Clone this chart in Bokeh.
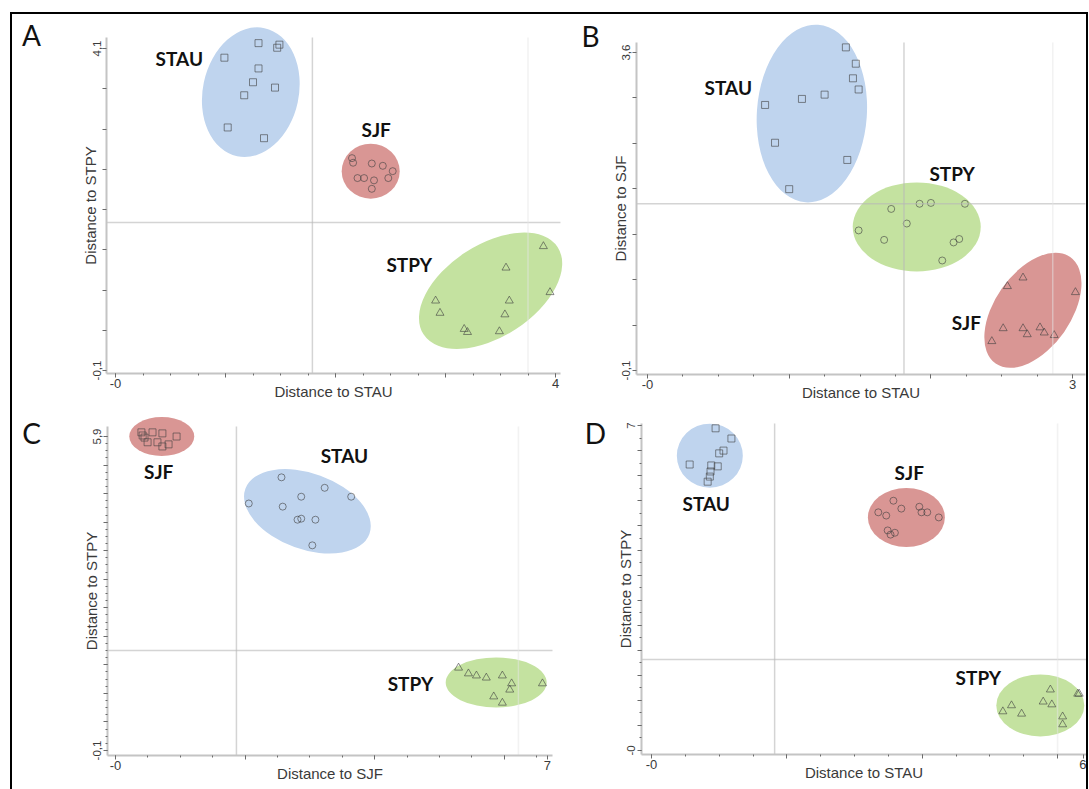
import numpy as np
from bokeh.plotting import figure
from bokeh.models import FixedTicker, Label
from bokeh.layouts import row, column
from bokeh.embed import file_html
from bokeh.resources import INLINE
from bokeh.core.properties import value

# ---------------- data ----------------
# Panel A: distance to STAU (x) vs distance to STPY (y)
a_stau_x = [1.30, 1.47, 1.49, 0.99, 1.30, 1.25, 1.45, 1.17, 1.02, 1.35]
a_stau_y = [4.17, 4.11, 4.15, 3.98, 3.84, 3.66, 3.59, 3.49, 3.07, 2.93]
a_sjf_x = [2.15, 2.16, 2.33, 2.43, 2.52, 2.48, 2.20, 2.26, 2.35, 2.33]
a_sjf_y = [2.67, 2.61, 2.60, 2.57, 2.50, 2.41, 2.41, 2.41, 2.38, 2.27]
a_stpy_x = [3.89, 3.55, 3.95, 2.91, 3.58, 2.95, 3.54, 3.17, 3.20, 3.49]
a_stpy_y = [1.52, 1.24, 0.92, 0.81, 0.81, 0.65, 0.63, 0.44, 0.40, 0.41]

# Panel B: distance to STAU (x) vs distance to SJF (y)
b_stau_x = [1.40, 1.47, 1.45, 1.49, 1.25, 1.09, 0.83, 0.90, 1.41, 1.00]
b_stau_y = [3.66, 3.47, 3.30, 3.17, 3.11, 3.06, 2.99, 2.55, 2.35, 2.01]
b_stpy_x = [1.72, 1.92, 2.00, 2.24, 1.83, 1.49, 1.67, 2.20, 2.16, 2.08]
b_stpy_y = [1.78, 1.84, 1.85, 1.84, 1.61, 1.53, 1.42, 1.43, 1.39, 1.18]
b_sjf_x = [2.65, 2.54, 3.02, 2.51, 2.65, 2.77, 2.68, 2.80, 2.87, 2.43]
b_sjf_y = [0.98, 0.88, 0.81, 0.39, 0.39, 0.40, 0.32, 0.34, 0.31, 0.24]

# Panel C: distance to SJF (x) vs distance to STPY (y)
c_sjf_x = [0.42, 0.44, 0.60, 0.76, 0.99, 0.52, 0.68, 0.76, 0.86, 0.47]
c_sjf_y = [5.98, 5.92, 5.98, 5.96, 5.90, 5.79, 5.79, 5.71, 5.75, 5.88]
c_stau_x = [2.69, 3.39, 3.82, 2.16, 3.01, 2.71, 2.95, 3.01, 3.24, 3.19]
c_stau_y = [5.12, 4.92, 4.75, 4.62, 4.75, 4.56, 4.31, 4.33, 4.31, 3.82]
c_stpy_x = [5.56, 5.72, 5.85, 6.01, 6.27, 6.42, 6.39, 6.92, 6.13, 6.27]
c_stpy_y = [1.48, 1.37, 1.33, 1.29, 1.33, 1.18, 1.06, 1.18, 0.93, 0.81]

# Panel D: distance to STAU (x) vs distance to STPY (y)
d_stau_x = [0.89, 1.11, 1.00, 0.94, 0.53, 0.83, 0.92, 0.82, 0.81, 0.78]
d_stau_y = [6.94, 6.72, 6.46, 6.40, 6.16, 6.14, 6.12, 6.01, 5.90, 5.79]
d_sjf_x = [3.36, 3.15, 3.26, 3.47, 3.72, 3.75, 3.83, 3.99, 3.28, 3.38, 3.32]
d_sjf_y = [5.38, 5.13, 5.06, 5.21, 5.25, 5.13, 5.13, 5.02, 4.74, 4.69, 4.65]
d_stpy_x = [5.54, 5.92, 5.94, 5.44, 5.56, 5.00, 4.88, 5.14, 5.71, 5.71]
d_stpy_y = [1.31, 1.22, 1.22, 1.05, 0.99, 0.97, 0.84, 0.79, 0.73, 0.56]

# axis end labels
a_xtick_labels = ["-0", "4"]
a_ytick_labels = ["-0,1", "4,1"]
b_xtick_labels = ["-0", "3"]
b_ytick_labels = ["-0,1", "3,6"]
c_xtick_labels = ["-0", "7"]
c_ytick_labels = ["-0,1", "5,9"]
d_xtick_labels = ["-0", "6"]
d_ytick_labels = ["-0", "7"]

# ---------------- styling ----------------
FILL = {"STAU": "#bfd4ee", "SJF": "#d99694", "STPY": "#c4e2a0"}
AX_FONT = "Liberation Sans"
GROUP_FONT = "Lato"

# xr / yr: full canvas ranges; xb / yb: extent of the drawn axes
panels = [
    dict(letter="A", w=563, h=386,
         xr=(-0.9364, 4.1818), yr=(-0.4913, 4.5435),
         xb=(-0.0818, 4.045), yb=(-0.139, 4.243),
         xlabel="Distance to STAU", ylabel="Distance to STPY",
         xmaj=[0, 1, 2, 3, 4], xmin=list(np.arange(0, 4.01, 0.25)), xlab=a_xtick_labels,
         ymaj=list(np.linspace(-0.1, 4.1, 9)), ymin=[], ylab=a_ytick_labels,
         groups=[("STAU", "square", a_stau_x, a_stau_y),
                 ("SJF", "circle", a_sjf_x, a_sjf_y),
                 ("STPY", "triangle", a_stpy_x, a_stpy_y)],
         # (group, centre x, centre y, width px, height px, angle deg)
         ellipses=[("STAU", 1.23, 3.53, 96, 131, -12),
                   ("SJF", 2.32, 2.50, 58, 55, 0),
                   ("STPY", 3.41, 0.94, 160, 92, 33)],
         names=[("STAU", 0.58, 3.97), ("SJF", 2.37, 3.04), ("STPY", 2.67, 1.28)],
         ref=(1.79, 1.83), faint=3.75, letter_pos=(-0.764, 4.270)),
    dict(letter="B", w=511, h=386,
         xr=(-0.5081, 3.0981), yr=(-0.4492, 4.0424),
         xb=(-0.0776, 3.091), yb=(-0.1466, 3.7164),
         xlabel="Distance to STAU", ylabel="Distance to SJF",
         xmaj=[0, 1, 2, 3], xmin=list(np.arange(0, 3.01, 0.25)), xlab=b_xtick_labels,
         ymaj=list(np.linspace(-0.1, 3.6, 8)), ymin=[], ylab=b_ytick_labels,
         groups=[("STAU", "square", b_stau_x, b_stau_y),
                 ("STPY", "circle", b_stpy_x, b_stpy_y),
                 ("SJF", "triangle", b_sjf_x, b_sjf_y)],
         ellipses=[("STAU", 1.16, 2.89, 110, 178, -4),
                   ("STPY", 1.90, 1.57, 128, 89, 0),
                   ("SJF", 2.72, 0.60, 130, 76, 55)],
         names=[("STAU", 0.57, 3.19), ("STPY", 2.15, 2.19), ("SJF", 2.25, 0.46)],
         ref=(1.81, 1.84), faint=2.86, letter_pos=(-0.402, 3.798)),
    dict(letter="C", w=563, h=389,
         xr=(-1.6694, 7.4554), yr=(-0.8457, 6.5883),
         xb=(-0.1297, 7.0827), yb=(-0.1956, 6.0912),
         xlabel="Distance to SJF", ylabel="Distance to STPY",
         xmaj=[0, 2.1, 4.2, 6.3, 7], xmin=list(np.arange(0, 7.0, 0.525)), xlab=c_xtick_labels,
         ymaj=list(np.linspace(-0.1, 5.9, 12)), ymin=list(np.linspace(-0.1, 5.9, 45)),
         ylab=c_ytick_labels,
         groups=[("SJF", "square", c_sjf_x, c_sjf_y),
                 ("STAU", "circle", c_stau_x, c_stau_y),
                 ("STPY", "triangle", c_stpy_x, c_stpy_y)],
         ellipses=[("SJF", 0.75, 5.90, 65, 39, 0),
                   ("STAU", 3.11, 4.47, 132, 76, -20),
                   ("STPY", 6.17, 1.20, 101, 50, 0)],
         names=[("SJF", 0.70, 5.23), ("STAU", 3.71, 5.54), ("STPY", 4.78, 1.18)],
         ref=(1.96, 1.81), faint=6.53, letter_pos=(-1.361, 5.976)),
    dict(letter="D", w=511, h=389,
         xr=(-1.0556, 6.0417), yr=(-0.8405, 7.5388),
         xb=(-0.1389, 6.0417), yb=(-0.0862, 7.0431),
         xlabel="Distance to STAU", ylabel="Distance to STPY",
         xmaj=[0, 1.88, 3.76, 5.64, 6], xmin=list(np.arange(0, 6.0, 0.47)), xlab=d_xtick_labels,
         ymaj=list(np.linspace(0, 7, 14)), ymin=list(np.linspace(0, 7, 27)),
         ylab=d_ytick_labels,
         groups=[("STAU", "square", d_stau_x, d_stau_y),
                 ("SJF", "circle", d_sjf_x, d_sjf_y),
                 ("STPY", "triangle", d_stpy_x, d_stpy_y)],
         ellipses=[("STAU", 0.81, 6.35, 66, 64, 0),
                   ("SJF", 3.54, 5.02, 77, 59, 0),
                   ("STPY", 5.40, 0.97, 88, 62, 0)],
         names=[("STAU", 0.76, 5.32), ("SJF", 3.58, 5.99), ("STPY", 4.54, 1.57)],
         ref=(1.71, 1.96), faint=5.64, letter_pos=(-0.778, 6.849)),
]


def style_axis(ax, major, minor, end_labels, title, size, vertical, at, bounds):
    ax.fixed_location = at
    ax.bounds = bounds
    ax.ticker = FixedTicker(ticks=major, minor_ticks=minor)
    overrides = {t: "" for t in major}
    overrides[major[0]] = end_labels[0]
    overrides[major[-1]] = end_labels[1]
    ax.major_label_overrides = overrides
    ax.axis_label = title
    ax.axis_label_text_font = AX_FONT
    ax.axis_label_text_font_size = "15px"
    ax.axis_label_text_font_style = "normal"
    ax.axis_label_text_color = "#3a3a3a"
    ax.axis_label_standoff = -9
    ax.major_label_text_font = AX_FONT
    ax.major_label_text_font_size = size
    ax.major_label_text_color = "#3a3a3a"
    ax.major_label_standoff = 2
    ax.axis_line_color = "#c4c4c4"
    ax.axis_line_width = 2
    ax.major_tick_line_color = "#6a6a6a"
    ax.minor_tick_line_color = "#6a6a6a"
    ax.major_tick_out = 4
    ax.major_tick_in = 0
    ax.minor_tick_out = 2
    ax.minor_tick_in = 0
    if vertical:
        ax.major_label_orientation = "vertical"


def build(spec):
    p = figure(width=spec["w"], height=spec["h"], x_range=spec["xr"], y_range=spec["yr"],
               output_backend="svg", toolbar_location=None, min_border=0)
    p.background_fill_color = "white"
    p.border_fill_color = "white"
    p.outline_line_color = None
    p.grid.visible = False

    x0, x1 = spec["xb"]
    y0, y1 = spec["yb"]
    style_axis(p.xaxis[0], spec["xmaj"], spec["xmin"], spec["xlab"], spec["xlabel"],
               "13px", False, y0, (x0, x1))
    style_axis(p.yaxis[0], spec["ymaj"], spec["ymin"], spec["ylab"], spec["ylabel"],
               "11.5px", True, x0, (y0, y1))

    # group ellipses
    for g, cx, cy, w, h, ang in spec["ellipses"]:
        p.ellipse(x=[cx], y=[cy], width=[w], height=[h], angle=[ang],
                  width_units="screen", height_units="screen", angle_units="deg",
                  fill_color=FILL[g], line_color=None)

    # samples
    for g, marker, xs, ys in spec["groups"]:
        size = 8 if marker == "triangle" else 7
        p.scatter(x=xs, y=ys, marker=marker, size=size, fill_color=None,
                  line_color="#404040", line_alpha=0.6, line_width=1)

    # reference lines, limited to the axis extent
    vx, hy = spec["ref"]
    p.segment(x0=[vx, x0], y0=[y0, hy], x1=[vx, x1], y1=[y1, hy],
              line_color="#b8b8b8", line_alpha=0.6, line_width=1.5)
    fx = spec["faint"]
    p.segment(x0=[fx], y0=[y0], x1=[fx], y1=[y1],
              line_color="#e6e6e6", line_alpha=0.5, line_width=1.5)

    # group names
    nm = spec["names"]
    p.text(x=[n[1] for n in nm], y=[n[2] for n in nm], text=[n[0] for n in nm],
           text_font=value(GROUP_FONT), text_font_style="bold", text_font_size="19px",
           text_align="center", text_baseline="middle", text_color="#111111")

    # panel letter
    lx, ly = spec["letter_pos"]
    p.add_layout(Label(x=lx, y=ly, text=spec["letter"],
                       text_font=GROUP_FONT, text_font_size="28px", text_color="#111111",
                       text_align="center", text_baseline="middle"))
    return p


figs = [build(s) for s in panels]
layout = column(row(figs[0], figs[1]), row(figs[2], figs[3]),
                margin=(12, 0, 0, 10),
                styles={"border-top": "2px solid black", "border-left": "2px solid black",
                        "border-right": "2px solid black"})

open("out.html", "w").write(file_html(layout, INLINE))
